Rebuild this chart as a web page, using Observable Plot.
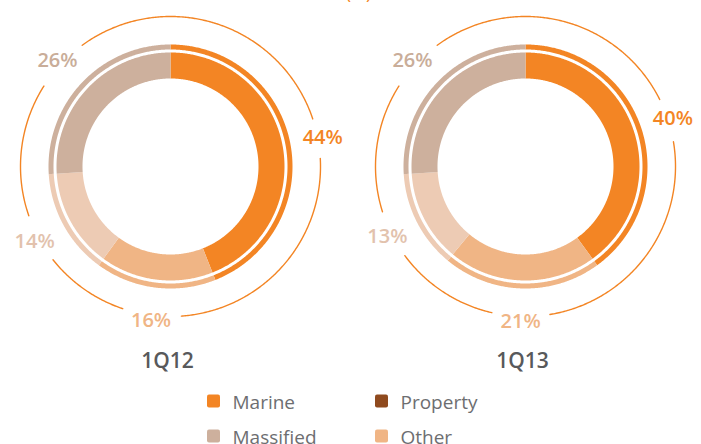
<!DOCTYPE html>
<html><head><meta charset="utf-8">
<script src="https://cdn.jsdelivr.net/npm/d3@7"></script>
<script src="https://cdn.jsdelivr.net/npm/@observablehq/plot@0.6"></script>
<style>body{margin:0;background:#fff}</style>
</head><body><div id="chart"></div>
<script>
// ---- data ----
const periods = ["1Q12", "1Q13"];
const segments = ["Marine", "Other", "Property", "Massified"]; // clockwise from top
const values1Q12 = [44, 16, 14, 26];
const values1Q13 = [40, 21, 13, 26];
const ringColors = ["#F38524", "#F0B585", "#EDCBB4", "#CDB09D"];
const labelColors = ["#F38524", "#F0B585", "#E2C2AD", "#C9AD99"];
const legendNames = ["Marine", "Property", "Massified", "Other"];
const legendColors = ["#F38524", "#8F4A1E", "#CDB09D", "#F0B585"];
const unitLabel = "(%)";

// ---- layout ----
const W = 701, H = 444;
const series = [values1Q12, values1Q13];
const centersX = [170, 525], cy = 166;
const R_IN = 88, R_OUT = 114, R_THIN0 = 117, R_THIN1 = 122, R_ARC = 150, R_LAB = 155;
const rad = d => d * Math.PI / 180;
const pt = (cx, r, deg) => ({x: cx + r * Math.sin(rad(deg)), y: cy - r * Math.cos(rad(deg))});

function ringPolys(r0, r1) {
  const rows = [];
  periods.forEach((p, pi) => {
    let acc = 0;
    series[pi].forEach((v, si) => {
      const a0 = acc * 3.6, a1 = (acc + v) * 3.6; acc += v;
      const id = `${p}-${si}-${r0}`;
      const n = Math.max(2, Math.ceil((a1 - a0) / 0.5));
      for (let k = 0; k <= n; k++) rows.push({id, color: ringColors[si], ...pt(centersX[pi], r1, a0 + (a1 - a0) * k / n)});
      for (let k = n; k >= 0; k--) rows.push({id, color: ringColors[si], ...pt(centersX[pi], r0, a0 + (a1 - a0) * k / n)});
    });
  });
  return rows;
}

const labels = [];
const arcs = [];
periods.forEach((p, pi) => {
  let acc = 0;
  const mids = series[pi].map(v => { const m = (acc + v / 2) * 3.6; acc += v; return m; });
  const gaps = mids.map(m => (Math.abs(Math.sin(rad(m))) * 7.5 + Math.abs(Math.cos(rad(m))) * 20 + 9) / R_ARC * 180 / Math.PI);
  series[pi].forEach((v, si) => {
    labels.push({si, text: v + "%", color: labelColors[si], ...pt(centersX[pi], R_LAB, mids[si])});
    const j = (si + 1) % mids.length;
    const s = mids[si] + gaps[si];
    const e = mids[j] + (j === 0 ? 360 : 0) - gaps[j];
    const n = Math.ceil((e - s) / 0.5);
    for (let k = 0; k <= n; k++) arcs.push({id: `${p}-${si}`, ...pt(centersX[pi], R_ARC, s + (e - s) * k / n)});
  });
});

const periodLabels = periods.map((p, pi) => ({text: p, x: centersX[pi] - 3, y: 367}));
const legend = legendNames.map((name, i) => {
  const col = i % 2, row = Math.floor(i / 2);
  return {name, color: legendColors[i], sx: 207 + col * 168, sy: 401 + row * 35, tx: 232 + col * 168, ty: 408 + row * 35};
});

const chart = Plot.plot({
  width: W, height: H, margin: 0,
  x: {domain: [0, W], range: [0, W], axis: null},
  y: {domain: [0, H], range: [0, H], axis: null},
  color: {type: "identity"},
  style: {fontFamily: "'Open Sans', sans-serif", background: "#fff"},
  marks: [
    Plot.line(ringPolys(R_IN, R_OUT), {x: "x", y: "y", z: "id", fill: "color", stroke: "none"}),
    Plot.line(ringPolys(R_THIN0, R_THIN1), {x: "x", y: "y", z: "id", fill: "color", stroke: "none"}),
    Plot.line(arcs, {x: "x", y: "y", z: "id", stroke: "#F38524", strokeWidth: 1.4}),
    Plot.text(labels, {x: "x", y: "y", text: "text", fill: "color", fontSize: 20, fontWeight: 600, textAnchor: "middle", lineAnchor: "middle"}),
    Plot.text(periodLabels, {x: "x", y: "y", text: "text", fill: "#58595B", fontSize: 21, fontWeight: 600, textAnchor: "middle", lineAnchor: "bottom"}),
    Plot.text([unitLabel], {x: () => 358, y: () => -2, text: d => d, fill: "#F38524", fontSize: 18, textAnchor: "middle", lineAnchor: "bottom"}),
    Plot.rect(legend, {x1: d => d.sx, x2: d => d.sx + 13, y1: d => d.sy - 6.5, y2: d => d.sy + 6.5, fill: "color", rx: 2}),
    Plot.text(legend, {x: "tx", y: "ty", text: "name", fill: "#6D6E71", fontSize: 19, textAnchor: "start", lineAnchor: "bottom"})
  ]
});
document.getElementById("chart").append(chart);
</script>
</body></html>
